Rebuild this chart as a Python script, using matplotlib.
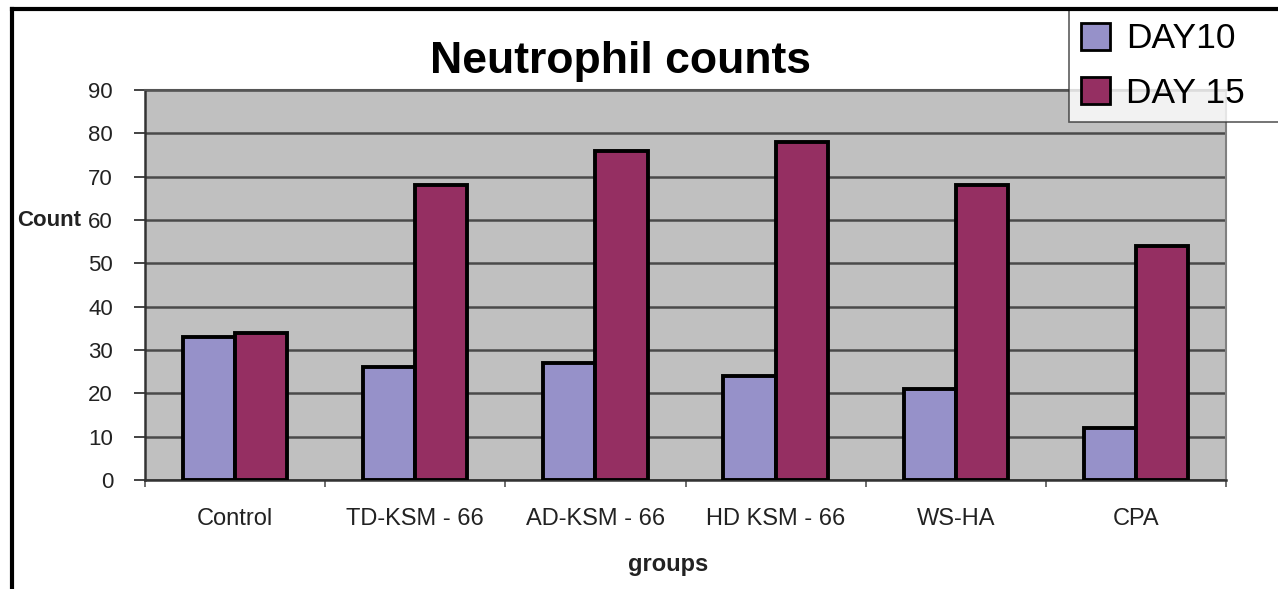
"""Neutrophil counts per treatment group, day 10 vs day 15 (Excel-style bar chart)."""
import matplotlib
matplotlib.use("Agg")
import matplotlib.pyplot as plt
import numpy as np
from matplotlib.lines import Line2D
from matplotlib.ticker import FixedLocator

plt.rcParams["font.family"] = ["Liberation Sans", "DejaVu Sans"]

groups = ["Control", "TD-KSM - 66", "AD-KSM - 66", "HD KSM - 66", "WS-HA", "CPA"]
day10 = [33, 26, 27, 24, 21, 12]
day15 = [34, 68, 76, 78, 68, 54]
series_names = ["DAY10", "DAY 15"]
yticks = list(range(0, 91, 10))

C_DAY10 = "#9691c9"
C_DAY15 = "#952f62"
W, H = 1278, 589

fig = plt.figure(figsize=(W / 100, H / 100), dpi=100)
ax = fig.add_axes([145 / W, 1 - 480 / H, (1226 - 145) / W, (480 - 90) / H])
ax.set_facecolor("#c0c0c0")

x = np.arange(len(groups))
bw = 0.29
ax.bar(x - bw / 2, day10, bw, color=C_DAY10, edgecolor="black", lw=2.8,
       label=series_names[0], zorder=3)
ax.bar(x + bw / 2, day15, bw, color=C_DAY15, edgecolor="black", lw=2.8,
       label=series_names[1], zorder=3)

ax.set_xlim(-0.5, len(groups) - 0.5)
ax.set_ylim(0, 90)
ax.set_yticks(yticks)
ax.yaxis.grid(True, color="#4a4a4a", lw=1.8, zorder=1)
ax.set_axisbelow(True)
ax.tick_params(axis="y", direction="out", length=8, width=1.2, pad=15,
               labelsize=16, colors="#222222")

ax.set_xticks(x)
ax.set_xticklabels(groups)
ax.xaxis.set_minor_locator(FixedLocator(np.arange(-0.5, len(groups), 1.0)))
ax.tick_params(axis="x", which="major", length=0, pad=20, labelsize=17,
               colors="#222222")
ax.tick_params(axis="x", which="minor", direction="out", length=5, width=1.2,
               color="#555555")

for side in ("left", "bottom"):
    ax.spines[side].set_color("#333333")
    ax.spines[side].set_linewidth(1.8)
ax.spines["top"].set_color("#555555")
ax.spines["top"].set_linewidth(1.5)
ax.spines["right"].set_color("#808080")
ax.spines["right"].set_linewidth(1.5)

fig.text(620 / W, 1 - 62 / H, "Neutrophil counts", ha="center", va="center",
         fontsize=32, fontweight="bold")
fig.text(17 / W, 1 - 220 / H, "Count", ha="left", va="center",
         fontsize=16, fontweight="bold", color="#222222")
fig.text(668 / W, 1 - 565 / H, "groups", ha="center", va="center",
         fontsize=17, fontweight="bold", color="#222222")

# outer chart border, cut off on the right and bottom like the source image
fig.add_artist(Line2D([12 / W, 12 / W], [0, 1 - 9 / H], color="black", lw=3))
fig.add_artist(Line2D([12 / W, 1], [1 - 9 / H, 1 - 9 / H], color="black", lw=3))

leg = ax.legend(loc="upper left", mode="expand",
                bbox_to_anchor=(1069 / W, 1 - 121 / H, 0.2, 111 / H),
                bbox_transform=fig.transFigure, fontsize=25.5, frameon=True,
                fancybox=False, handlelength=0.8, handleheight=0.8,
                handletextpad=0.45, labelspacing=0.6, borderpad=0.35,
                borderaxespad=0)
leg.get_frame().set_edgecolor("#333333")
leg.get_frame().set_linewidth(1.2)
for h in leg.legend_handles:
    h.set_linewidth(2)

fig.savefig("out.png", dpi=100)
